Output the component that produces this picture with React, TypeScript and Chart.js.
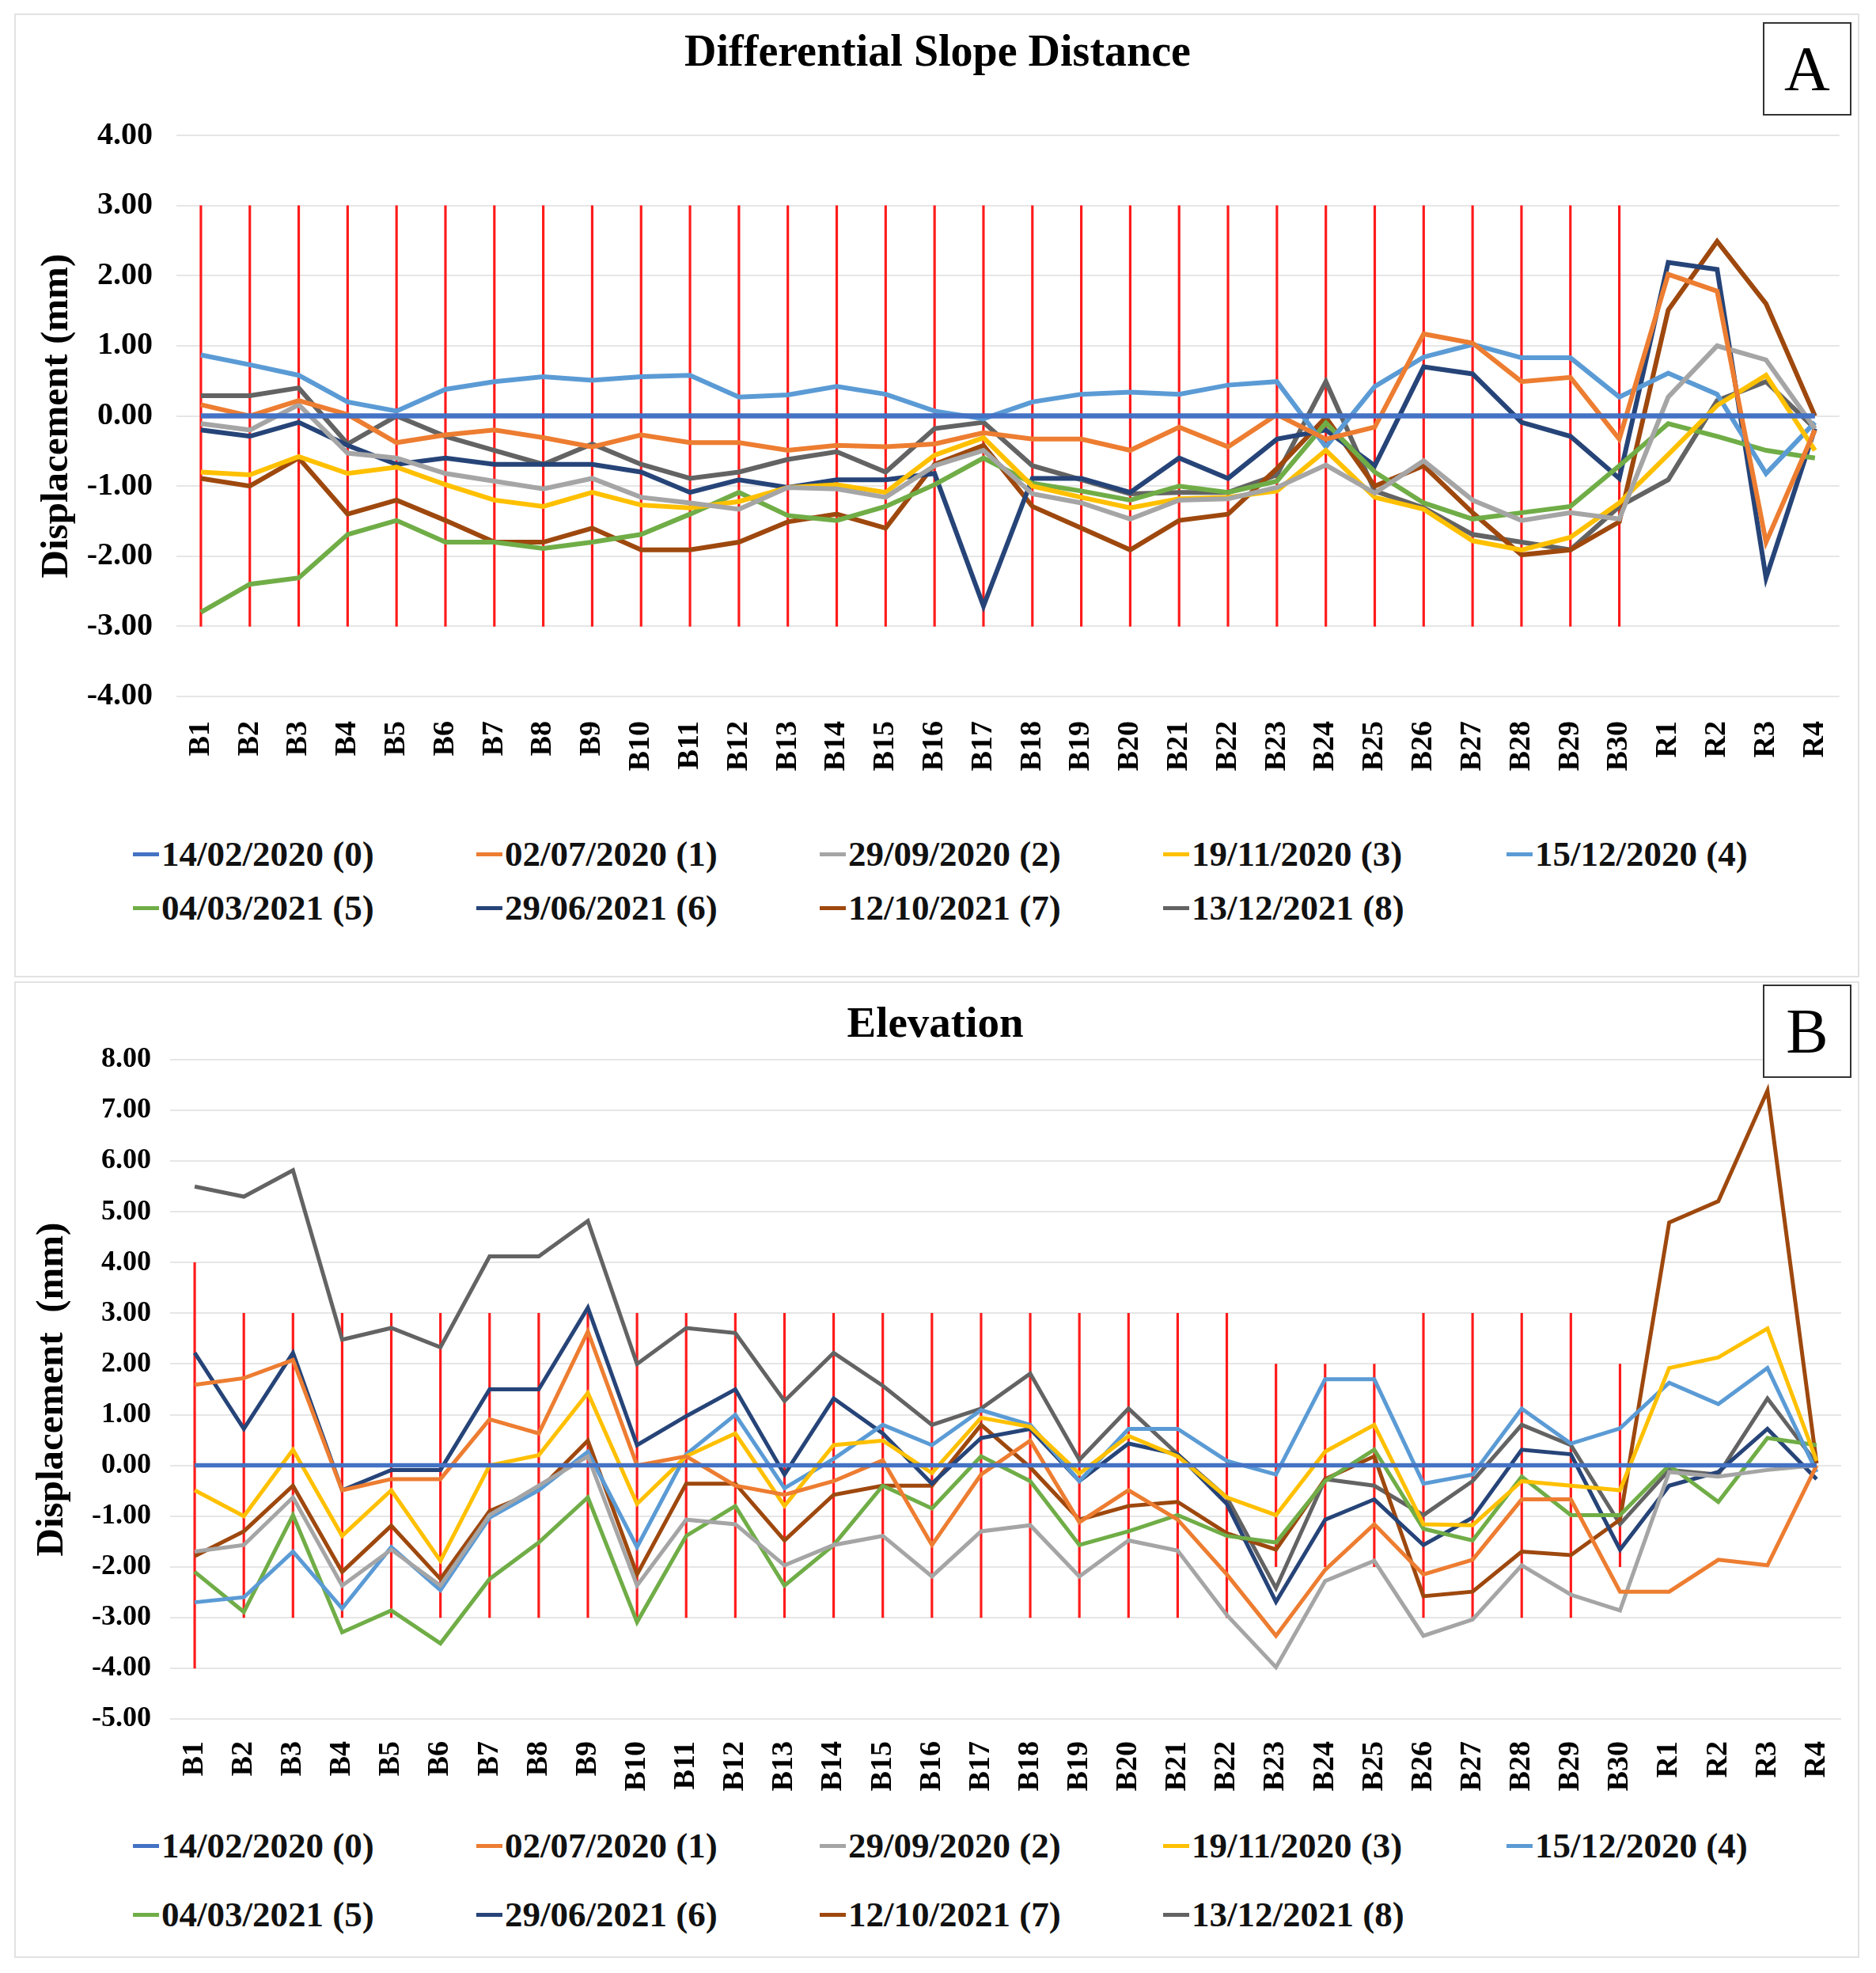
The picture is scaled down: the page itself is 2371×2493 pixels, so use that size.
import React, { useEffect, useRef } from 'react';
import { Chart, registerables } from 'chart.js';

Chart.register(...registerables);
Chart.defaults.font.family = "'Liberation Serif', 'Times New Roman', serif";

// ---------- data ----------
const categories = [
  'B1', 'B2', 'B3', 'B4', 'B5', 'B6', 'B7', 'B8', 'B9', 'B10',
  'B11', 'B12', 'B13', 'B14', 'B15', 'B16', 'B17', 'B18', 'B19', 'B20',
  'B21', 'B22', 'B23', 'B24', 'B25', 'B26', 'B27', 'B28', 'B29', 'B30',
  'R1', 'R2', 'R3', 'R4',
];

const seriesLabels = [
  '14/02/2020 (0)', '02/07/2020 (1)', '29/09/2020 (2)', '19/11/2020 (3)', '15/12/2020 (4)',
  '04/03/2021 (5)', '29/06/2021 (6)', '12/10/2021 (7)', '13/12/2021 (8)',
];

const seriesColors = [
  '#4472C4', '#ED7D31', '#A5A5A5', '#FFC000', '#5B9BD5',
  '#70AD47', '#264478', '#9E480E', '#636363',
];

// Differential Slope Distance (mm)
const slope0 = [0, 0, 0, 0, 0, 0, 0, 0, 0, 0, 0, 0, 0, 0, 0, 0, 0, 0, 0, 0, 0, 0, 0, 0, 0, 0, 0, 0, 0, 0, 0, 0, 0, 0];
const slope1 = [0.16, 0.0, 0.22, 0.02, -0.38, -0.27, -0.2, -0.31, -0.44, -0.27, -0.38, -0.38, -0.49, -0.42, -0.44, -0.4, -0.24, -0.33, -0.33, -0.49, -0.16, -0.44, 0.02, -0.33, -0.16, 1.17, 1.04, 0.49, 0.55, -0.33, 2.02, 1.78, -1.8, -0.2];
const slope2 = [-0.11, -0.2, 0.16, -0.53, -0.6, -0.82, -0.93, -1.04, -0.89, -1.16, -1.24, -1.33, -1.02, -1.04, -1.16, -0.71, -0.49, -1.11, -1.24, -1.47, -1.2, -1.18, -1.02, -0.7, -1.1, -0.64, -1.2, -1.49, -1.38, -1.47, 0.27, 1.0, 0.8, -0.18];
const slope3 = [-0.8, -0.84, -0.58, -0.82, -0.73, -0.98, -1.2, -1.29, -1.09, -1.27, -1.31, -1.22, -1.02, -0.98, -1.09, -0.56, -0.31, -1.0, -1.16, -1.31, -1.18, -1.16, -1.07, -0.49, -1.16, -1.33, -1.78, -1.91, -1.73, -1.24, -0.55, 0.15, 0.58, -0.49];
const slope4 = [0.87, 0.73, 0.58, 0.2, 0.07, 0.38, 0.49, 0.56, 0.51, 0.56, 0.58, 0.27, 0.3, 0.42, 0.31, 0.07, -0.04, 0.2, 0.31, 0.34, 0.31, 0.44, 0.49, -0.44, 0.42, 0.84, 1.02, 0.83, 0.83, 0.27, 0.61, 0.31, -0.82, -0.09];
const slope5 = [-2.8, -2.4, -2.31, -1.69, -1.49, -1.8, -1.8, -1.89, -1.8, -1.69, -1.4, -1.09, -1.42, -1.49, -1.29, -0.98, -0.6, -0.96, -1.07, -1.2, -1.0, -1.09, -0.93, -0.1, -0.8, -1.24, -1.47, -1.38, -1.29, -0.71, -0.11, -0.29, -0.49, -0.6];
const slope6 = [-0.2, -0.29, -0.09, -0.42, -0.69, -0.6, -0.69, -0.69, -0.69, -0.8, -1.09, -0.91, -1.02, -0.91, -0.91, -0.82, -2.71, -0.89, -0.89, -1.09, -0.6, -0.89, -0.33, -0.2, -0.71, 0.7, 0.6, -0.09, -0.29, -0.89, 2.19, 2.09, -2.31, -0.18];
const slope7 = [-0.89, -1.0, -0.6, -1.4, -1.2, -1.49, -1.8, -1.8, -1.6, -1.91, -1.91, -1.8, -1.51, -1.4, -1.6, -0.69, -0.42, -1.29, -1.6, -1.91, -1.49, -1.4, -0.75, -0.02, -1.0, -0.71, -1.38, -1.98, -1.91, -1.51, 1.51, 2.49, 1.6, 0.0];
const slope8 = [0.29, 0.29, 0.4, -0.4, 0.0, -0.29, -0.49, -0.69, -0.4, -0.69, -0.89, -0.8, -0.62, -0.51, -0.8, -0.18, -0.09, -0.71, -0.91, -1.11, -1.09, -1.09, -0.84, 0.49, -1.07, -1.31, -1.69, -1.8, -1.91, -1.29, -0.91, 0.22, 0.49, -0.18];
// half-range of the red tolerance bars (null = none)
const slopeTolerance = [3, 3, 3, 3, 3, 3, 3, 3, 3, 3, 3, 3, 3, 3, 3, 3, 3, 3, 3, 3, 3, 3, 3, 3, 3, 3, 3, 3, 3, 3, null, null, null, null];

// Elevation (mm)
const elev0 = [0, 0, 0, 0, 0, 0, 0, 0, 0, 0, 0, 0, 0, 0, 0, 0, 0, 0, 0, 0, 0, 0, 0, 0, 0, 0, 0, 0, 0, 0, 0, 0, 0, 0];
const elev1 = [1.59, 1.72, 2.08, -0.49, -0.27, -0.27, 0.91, 0.63, 2.64, 0.0, 0.18, -0.4, -0.58, -0.31, 0.1, -1.57, -0.18, 0.49, -1.12, -0.49, -1.07, -2.15, -3.36, -2.06, -1.16, -2.15, -1.86, -0.67, -0.67, -2.49, -2.49, -1.86, -1.97, 0.0];
const elev2 = [-1.7, -1.57, -0.63, -2.37, -1.66, -2.37, -0.98, -0.4, 0.18, -2.37, -1.07, -1.16, -1.97, -1.57, -1.39, -2.19, -1.3, -1.18, -2.19, -1.48, -1.68, -2.95, -3.98, -2.28, -1.88, -3.36, -3.04, -1.97, -2.55, -2.86, -0.13, -0.22, -0.09, 0.0];
const elev3 = [-0.49, -1.0, 0.31, -1.39, -0.49, -1.88, 0.0, 0.2, 1.43, -0.76, 0.18, 0.63, -0.8, 0.4, 0.49, -0.15, 0.94, 0.76, -0.16, 0.58, 0.18, -0.63, -0.98, 0.27, 0.8, -1.16, -1.18, -0.31, -0.4, -0.49, 1.92, 2.13, 2.7, 0.09];
const elev4 = [-2.7, -2.6, -1.7, -2.82, -1.61, -2.46, -1.03, -0.49, 0.27, -1.61, 0.22, 1.0, -0.45, 0.13, 0.8, 0.4, 1.09, 0.8, -0.31, 0.72, 0.72, 0.09, -0.18, 1.7, 1.7, -0.36, -0.18, 1.12, 0.43, 0.73, 1.63, 1.21, 1.92, -0.13];
const elev5 = [-2.1, -2.89, -0.98, -3.29, -2.86, -3.51, -2.24, -1.52, -0.63, -3.09, -1.39, -0.8, -2.37, -1.57, -0.4, -0.85, 0.18, -0.31, -1.57, -1.3, -0.98, -1.39, -1.52, -0.31, 0.31, -1.25, -1.48, -0.22, -0.98, -0.98, 0.0, -0.72, 0.54, 0.4];
const elev6 = [2.22, 0.72, 2.22, -0.49, -0.09, -0.09, 1.5, 1.5, 3.11, 0.4, 0.97, 1.5, -0.18, 1.32, 0.63, -0.36, 0.54, 0.72, -0.31, 0.43, 0.22, -0.76, -2.69, -1.07, -0.67, -1.57, -1.03, 0.31, 0.22, -1.66, -0.4, -0.13, 0.72, -0.27];
const elev7 = [-1.79, -1.3, -0.4, -2.1, -1.19, -2.24, -0.9, -0.49, 0.49, -2.15, -0.36, -0.36, -1.48, -0.58, -0.4, -0.4, 0.8, -0.04, -1.07, -0.8, -0.72, -1.34, -1.66, -0.27, 0.18, -2.58, -2.49, -1.7, -1.77, -1.07, 4.79, 5.21, 7.39, 0.04];
const elev8 = [5.5, 5.3, 5.82, 2.48, 2.71, 2.33, 4.12, 4.12, 4.82, 2.0, 2.71, 2.61, 1.27, 2.22, 1.57, 0.8, 1.12, 1.81, 0.11, 1.12, 0.22, -0.63, -2.42, -0.27, -0.4, -0.98, -0.31, 0.8, 0.4, -1.16, -0.09, -0.18, 1.32, 0.04];
const elevTolerance = [4, 3, 3, 3, 3, 3, 3, 3, 3, 3, 3, 3, 3, 3, 3, 3, 3, 3, 3, 3, 3, 3, 2, 2, 2, 3, 3, 3, 3, 2, null, null, null, null];

const slopeSeries = [slope0, slope1, slope2, slope3, slope4, slope5, slope6, slope7, slope8];
const elevSeries = [elev0, elev1, elev2, elev3, elev4, elev5, elev6, elev7, elev8];

// ---------- layout constants ----------
const LEGEND_COLS = [168, 602, 1036, 1470, 1904];

type PanelSpec = {
  top: number;
  height: number;
  title: string;
  titleFont: number;
  yTitle: string;
  series: number[][];
  tolerance: (number | null)[];
  yMin: number;
  yMax: number;
  yWidth: number;
  yPad: number;
  yFont: number;
  yTitlePad: number;
  padLeft: number;
  padRight: number;
  titleTop: number;
  titleBottom: number;
  xHeight: number;
  xPad: number;
  lineWidth: number;
};

function buildConfig(p: PanelSpec): any {
  const lineSets = p.series.map((d, i) => ({
    type: 'line',
    label: seriesLabels[i],
    data: d,
    borderColor: seriesColors[i],
    backgroundColor: seriesColors[i],
    borderWidth: i === 0 ? p.lineWidth + 0.5 : p.lineWidth,
    pointRadius: 0,
    pointHoverRadius: 0,
    tension: 0,
    fill: false,
    order: 0,
  }));
  const tolSet = {
    type: 'bar',
    label: 'tolerance',
    data: p.tolerance.map((h) => (h == null ? null : [-h, h])),
    backgroundColor: '#FF1A1A',
    borderWidth: 0,
    barThickness: 2.5,
    grouped: false,
    order: 10,
  };
  return {
    type: 'line',
    data: { labels: categories, datasets: [...lineSets, tolSet] },
    options: {
      responsive: false,
      animation: false,
      events: [],
      layout: { padding: { left: p.padLeft, right: p.padRight, top: 0, bottom: 0 } },
      plugins: {
        legend: { display: false },
        tooltip: { enabled: false },
        title: {
          display: true,
          text: p.title,
          color: '#000',
          font: { size: p.titleFont, weight: 'bold', lineHeight: 1.2 },
          padding: { top: p.titleTop, bottom: p.titleBottom },
        },
      },
      scales: {
        x: {
          type: 'category',
          offset: true,
          grid: { display: false, drawTicks: false },
          border: { display: false },
          ticks: {
            autoSkip: false,
            minRotation: 90,
            maxRotation: 90,
            padding: p.xPad,
            color: '#000',
            font: { size: 38, weight: 'bold' },
          },
          afterFit: (s: any) => {
            s.height = p.xHeight;
          },
        },
        y: {
          type: 'linear',
          min: p.yMin,
          max: p.yMax,
          grid: { color: '#E6E6E6', lineWidth: 2, drawTicks: false },
          border: { display: false },
          ticks: {
            stepSize: 1,
            padding: p.yPad,
            color: '#000',
            font: { size: p.yFont, weight: 'bold' },
            callback: (v: any) => Number(v).toFixed(2),
          },
          title: {
            display: true,
            text: p.yTitle,
            color: '#000',
            font: { size: 49, weight: 'bold', lineHeight: 1.2 },
            padding: { top: p.yTitlePad, bottom: 0 },
          },
          afterFit: (s: any) => {
            s.width = p.yWidth;
          },
        },
      },
    },
  };
}

function ChartCanvas({ spec }: { spec: PanelSpec }) {
  const ref = useRef<HTMLCanvasElement | null>(null);
  useEffect(() => {
    if (!ref.current) return;
    const chart = new Chart(ref.current, buildConfig(spec));
    return () => chart.destroy();
  }, [spec]);
  return (
    <canvas
      ref={ref}
      width={2371}
      height={spec.height}
      style={{ position: 'absolute', left: 0, top: spec.top, width: 2371, height: spec.height }}
    />
  );
}

function Legend({ rows }: { rows: number[] }) {
  return (
    <>
      {seriesLabels.map((label, i) => {
        const row = i < 5 ? 0 : 1;
        const col = i < 5 ? i : i - 5;
        return (
          <div
            key={label}
            style={{
              position: 'absolute',
              left: LEGEND_COLS[col],
              top: rows[row] - 27,
              height: 54,
              display: 'flex',
              alignItems: 'center',
              whiteSpace: 'nowrap',
              fontFamily: "'Liberation Serif', serif",
              fontWeight: 'bold',
              fontSize: 45,
              color: '#111',
            }}
          >
            <span style={{ display: 'inline-block', width: 33, height: 5, background: seriesColors[i], marginRight: 3 }} />
            <span>{label}</span>
          </div>
        );
      })}
    </>
  );
}

function LetterBox({ letter, top }: { letter: string; top: number }) {
  return (
    <div
      style={{
        position: 'absolute',
        left: 2228,
        top,
        width: 112,
        height: 118,
        border: '2px solid #333',
        boxSizing: 'border-box',
        background: '#fff',
        display: 'flex',
        alignItems: 'center',
        justifyContent: 'center',
        fontFamily: "'Liberation Serif', serif",
        fontSize: 80,
        color: '#000',
        lineHeight: 1,
      }}
    >
      {letter}
    </div>
  );
}

const specA: PanelSpec = {
  top: 0,
  height: 1000,
  title: 'Differential Slope Distance',
  titleFont: 56,
  yTitle: 'Displacement (mm)',
  series: slopeSeries,
  tolerance: slopeTolerance,
  yMin: -4,
  yMax: 4,
  yWidth: 186,
  yPad: 30,
  yFont: 40,
  yTitlePad: 6,
  padLeft: 37,
  padRight: 38,
  titleTop: 35,
  titleBottom: 69,
  xHeight: 120,
  xPad: 31,
  lineWidth: 6,
};

const specB: PanelSpec = {
  top: 1240,
  height: 1040,
  title: 'Elevation',
  titleFont: 55,
  yTitle: 'Displacement  (mm)',
  series: elevSeries,
  tolerance: elevTolerance,
  yMin: -5,
  yMax: 8,
  yWidth: 178,
  yPad: 24,
  yFont: 36,
  yTitlePad: 0,
  padLeft: 37,
  padRight: 44,
  titleTop: 23,
  titleBottom: 10,
  xHeight: 108,
  xPad: 28,
  lineWidth: 5,
};

export default function App() {
  return (
    <div style={{ position: 'absolute', left: 0, top: 0, width: 2371, height: 2493, background: '#fff', overflow: 'hidden' }}>
      <div style={{ position: 'absolute', left: 18, top: 17, width: 2332, height: 1218, border: '2px solid #E2E2E2', boxSizing: 'border-box' }} />
      <div style={{ position: 'absolute', left: 18, top: 1240, width: 2332, height: 1234, border: '2px solid #E2E2E2', boxSizing: 'border-box' }} />
      <ChartCanvas spec={specA} />
      <ChartCanvas spec={specB} />
      <Legend rows={[1079, 1147]} />
      <Legend rows={[2332, 2419]} />
      <LetterBox letter="A" top={28} />
      <LetterBox letter="B" top={1244} />
    </div>
  );
}
